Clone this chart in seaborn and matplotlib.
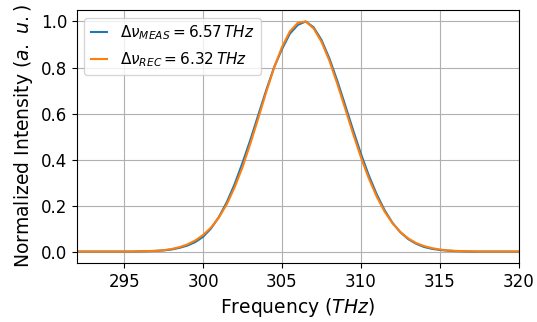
import numpy as np
import pandas as pd
import matplotlib
matplotlib.use("Agg")
import matplotlib.pyplot as plt
import seaborn as sns

# frequency grid (THz), 0.5 THz steps
freq = [292 + 0.5 * i for i in range(57)]

meas = [0, 0, 0, 0, 0, 0, 0, 0,
        0.0008, 0.0015, 0.0028, 0.005, 0.009, 0.016, 0.026, 0.041,
        0.064, 0.100, 0.150, 0.214, 0.293, 0.386, 0.486, 0.594,
        0.701, 0.801, 0.880, 0.947, 0.985, 1.0, 0.975, 0.920,
        0.840, 0.743, 0.637, 0.529, 0.425, 0.331, 0.249, 0.180,
        0.125, 0.084, 0.054, 0.034, 0.020, 0.012, 0.007, 0.004,
        0.002, 0.001, 0, 0, 0, 0, 0, 0, 0]

# reconstructed spectrum (normalized)
rec = [0, 0, 0, 0, 0, 0, 0, 0,
       0.001, 0.002, 0.0035, 0.006, 0.011, 0.019, 0.031, 0.048,
       0.072, 0.104, 0.148, 0.205, 0.279, 0.367, 0.470, 0.580,
       0.693, 0.799, 0.889, 0.957, 0.994, 1.0, 0.970, 0.912,
       0.830, 0.730, 0.622, 0.513, 0.410, 0.318, 0.239, 0.174,
       0.123, 0.085, 0.057, 0.037, 0.024, 0.015, 0.009, 0.005,
       0.003, 0.0015, 0.0008, 0, 0, 0, 0, 0, 0]

fwhm_meas = 6.57
fwhm_rec = 6.32

lbl_meas = r"$\Delta\nu_{MEAS} = %.2f\,THz$" % fwhm_meas
lbl_rec = r"$\Delta\nu_{REC} = %.2f\,THz$" % fwhm_rec

df = pd.DataFrame({
    "freq": freq + freq,
    "intensity": meas + rec,
    "series": [lbl_meas] * len(freq) + [lbl_rec] * len(freq),
})

plt.rcParams["font.size"] = 12
fig, ax = plt.subplots(figsize=(5.37, 3.22), dpi=100)
sns.lineplot(data=df, x="freq", y="intensity", hue="series",
             palette=["#1f77b4", "#ff7f0e"], linewidth=1.5, ax=ax)

ax.set_xlim(292, 320)
ax.set_xticks([295, 300, 305, 310, 315, 320])
ax.set_yticks([0.0, 0.2, 0.4, 0.6, 0.8, 1.0])
ax.grid(True, color="#b0b0b0", linewidth=0.8)
ax.set_xlabel(r"Frequency ($THz$)", fontsize=13.5)
ax.set_ylabel(r"Normalized Intensity ($a.\ u.$)", fontsize=13.5)
ax.legend(title=None, loc="upper left", fontsize=11,
          handlelength=1.1, handletextpad=0.85)

fig.subplots_adjust(left=0.143, right=0.966, top=0.969, bottom=0.183)
fig.savefig("out.png", dpi=100)
